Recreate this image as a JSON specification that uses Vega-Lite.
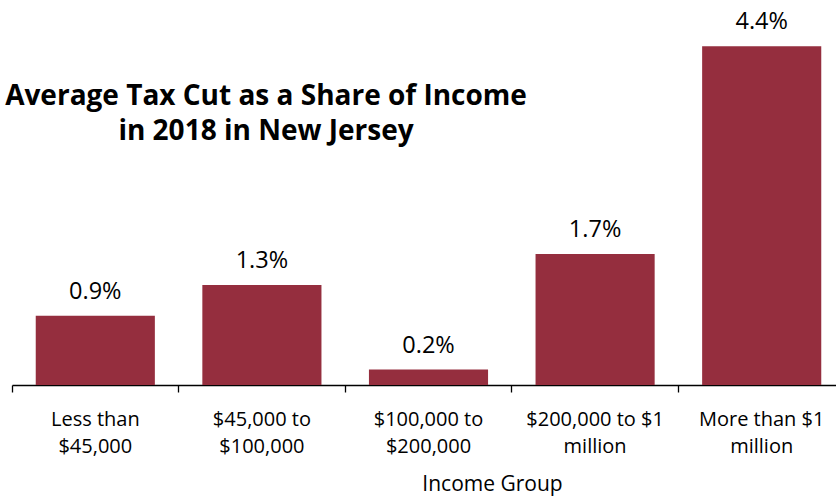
{
  "$schema": "https://vega.github.io/schema/vega-lite/v6.json",
  "width": 824,
  "height": 385,
  "autosize": {"type": "none"},
  "padding": {"left": 12, "top": 0, "right": 0, "bottom": 112},
  "background": "white",
  "config": {"view": {"stroke": null}, "font": "Open Sans"},
  "title": {
    "text": ["Average Tax Cut as a Share of Income", "in 2018 in New Jersey"],
    "font": "Open Sans",
    "fontSize": 28,
    "fontWeight": "bold",
    "color": "#000000",
    "anchor": "middle",
    "frame": "group",
    "baseline": "alphabetic",
    "lineHeight": 35,
    "offset": 0,
    "dx": -158,
    "dy": 168
  },
  "data": {
    "values": [
      {"group": "Less than\n$45,000", "share": 0.009},
      {"group": "$45,000 to\n$100,000", "share": 0.013},
      {"group": "$100,000 to\n$200,000", "share": 0.002},
      {"group": "$200,000 to $1\nmillion", "share": 0.017},
      {"group": "More than $1\nmillion", "share": 0.044}
    ]
  },
  "encoding": {
    "x": {
      "field": "group",
      "type": "nominal",
      "sort": null,
      "scale": {"range": [0, 833], "paddingInner": 0, "paddingOuter": 0},
      "axis": {
        "title": "Income Group",
        "titleFont": "Open Sans",
        "titleFontSize": 21,
        "titleFontWeight": "normal",
        "titleColor": "#000000",
        "titleX": 480,
        "titleY": 105,
        "titleBaseline": "alphabetic",
        "titleAnchor": "middle",
        "titleAlign": "center",
        "labelAngle": 0,
        "labelFont": "Open Sans",
        "labelFontSize": 20,
        "labelColor": "#000000",
        "labelExpr": "split(datum.label, '\\n')",
        "labelLineHeight": 27,
        "labelBaseline": "top",
        "labelPadding": 17,
        "labelLimit": 0,
        "tickSize": 7,
        "tickColor": "#000000",
        "tickWidth": 1.3,
        "bandPosition": 0,
        "domainColor": "#000000",
        "domainWidth": 1.3,
        "grid": false
      }
    },
    "y": {
      "field": "share",
      "type": "quantitative",
      "scale": {"domain": [0, 0.05], "nice": false},
      "axis": null
    }
  },
  "layer": [
    {
      "mark": {"type": "bar", "color": "#952E3E", "width": {"band": 0.715}}
    },
    {
      "mark": {"type": "text", "baseline": "alphabetic", "dy": -17, "fontSize": 23.5, "font": "Open Sans", "color": "#000000"},
      "encoding": {"text": {"field": "share", "type": "quantitative", "format": ".1%"}}
    }
  ]
}
